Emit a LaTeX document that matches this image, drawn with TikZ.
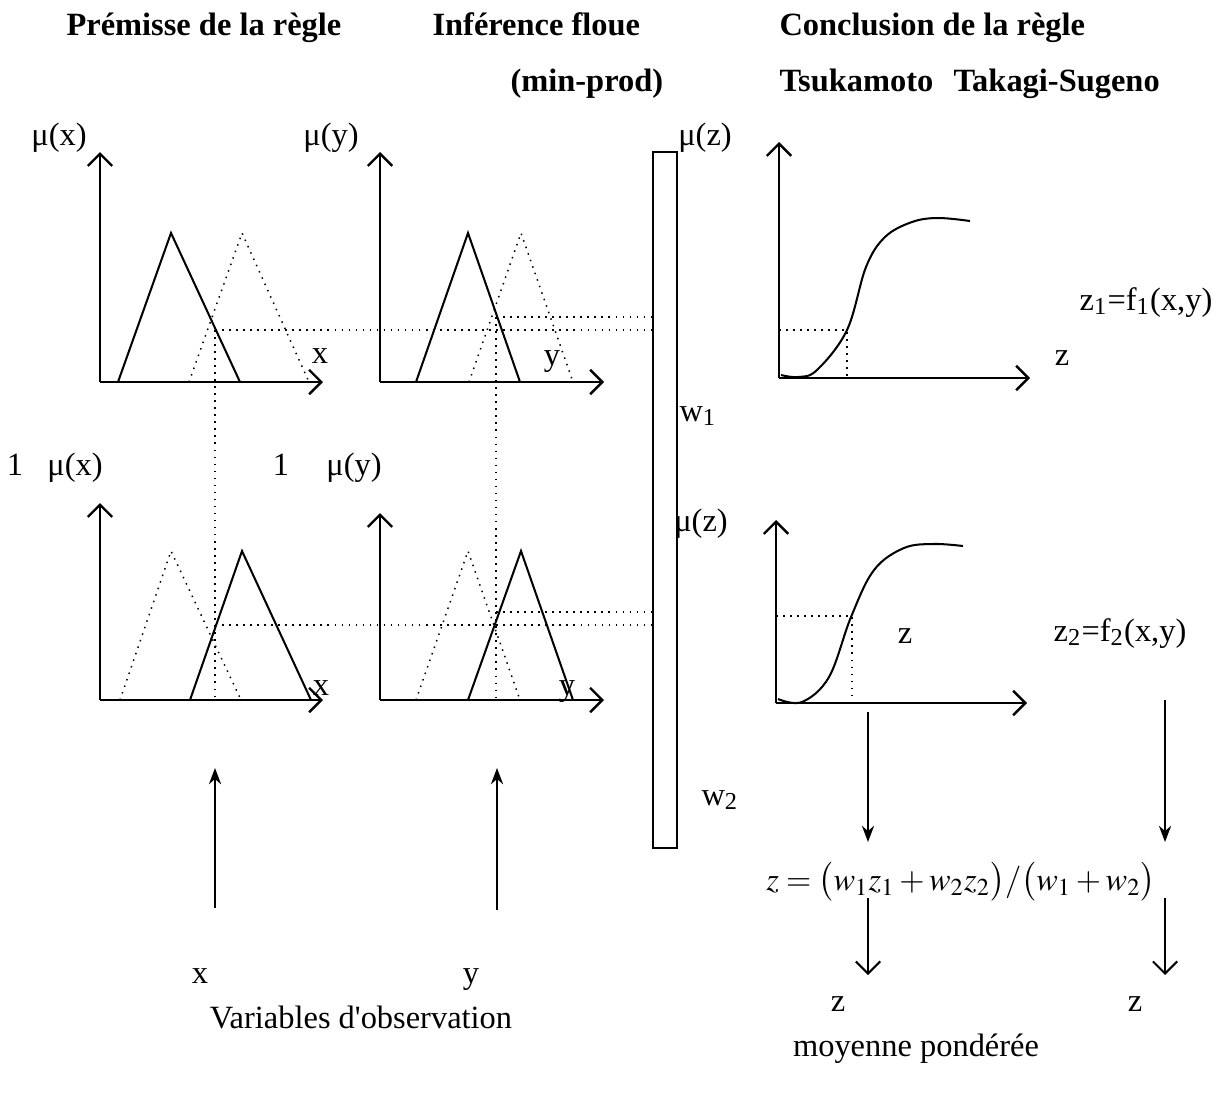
\documentclass[tikz,border=0pt,12pt]{standalone}
\usepackage{mathptmx}
\usepackage[no-math]{fontspec}
\setmainfont{Liberation Serif}
\usetikzlibrary{arrows.meta,positioning,calc}

\begin{document}
\begin{tikzpicture}[
    x=0.013cm, y=-0.013cm,
    axis/.style={-{Straight Barb[length=4.5pt,width=9pt]}, line width=0.9pt},
    mf/.style={line width=0.75pt, line join=miter},
    mfdot/.style={dotted, line width=0.55pt},
    guide/.style={dotted, line width=0.6pt},
    flow/.style={-{Stealth[length=6pt,width=4.5pt]}, line width=0.75pt},
    flowopen/.style={-{Straight Barb[length=4.5pt,width=9pt]}, line width=0.75pt},
    head/.style={font=\bfseries, anchor=base west, inner sep=0pt},
    lbl/.style={inner sep=0pt, anchor=base, yshift=-0.104cm}
]
\useasboundingbox (0,0) rectangle (1222,1098);

    % Titres
    \node[head] (premisse) at (66,35) {Prémisse de la règle};
    \node[head] (inference) at (432,35) {Inférence floue};
    \node[head] (conclusion) at (779,35) {Conclusion de la règle};
    \node[head] (minprod) at (510,91) {(min-prod)};
    \node[head] (tsukamoto) at (779,91) {Tsukamoto};
    \node[head] (sugeno) at (953,91) {Takagi-Sugeno};

    % Regle 1 : premisse
    \draw[axis] (100,382) -- (100,152);
    \draw[axis] (100,382) -- (323,382);
    \draw[mf] (118,382) -- (171,233) -- (240,382);
    \draw[mfdot] (189,382) -- (242,233) -- (309,382);
    \node[lbl] (mux1) at (59,137) {μ(x)};
    \node[lbl] (xa1) at (320,355) {x};

    \draw[axis] (380,382) -- (380,152);
    \draw[axis] (380,382) -- (604,382);
    \draw[mf] (416,382) -- (468,233) -- (520,382);
    \draw[mfdot] (469,382) -- (521,233) -- (573,382);
    \node[lbl] (muy1) at (331,137) {μ(y)};
    \node[lbl] (ya1) at (552,357) {y};

    % Regle 2 : premisse
    \draw[axis] (100,700) -- (100,503);
    \draw[axis] (100,700) -- (323,700);
    \draw[mfdot] (120,700) -- (171,551) -- (241,700);
    \draw[mf] (190,700) -- (242,551) -- (311,700);
    \node[lbl] (un1) at (15,467) {1};
    \node[lbl] (mux2) at (75,467) {μ(x)};
    \node[lbl] (xa2) at (321,687) {x};

    \draw[axis] (380,700) -- (380,513);
    \draw[axis] (380,700) -- (604,700);
    \draw[mfdot] (416,700) -- (468,551) -- (520,700);
    \draw[mf] (468,700) -- (521,551) -- (573,700);
    \node[lbl] (un2) at (281,467) {1};
    \node[lbl] (muy2) at (354,467) {μ(y)};
    \node[lbl] (ya2) at (567,687) {y};

    % Barre des poids
    \draw[line width=0.75pt] (653,152) rectangle (677,848);
    \node[lbl] (muz1) at (705,137) {μ(z)};
    \node[lbl] (muz2) at (701,523) {μ(z)};
    \node[lbl] (w1) at (698,413) {w\textsubscript{1}};
    \node[lbl] (w2) at (720,797) {w\textsubscript{2}};

    % Lignes de lecture
    \draw[guide] (215,330) -- (653,330);
    \draw[guide] (496,317) -- (653,317);
    \draw[guide] (215,625) -- (653,625);
    \draw[guide] (496,612) -- (653,612);
    \draw[guide] (215,330) -- (215,700);
    \draw[guide] (496,317) -- (496,700);

    % Conclusion, regle 1
    \draw[axis] (779,378) -- (779,142);
    \draw[axis] (779,378) -- (1030,378);
    \draw[mf] plot[smooth, tension=0.6] coordinates {(781,375) (798,377) (817,370) (847,330) (866,267) (885,237) (912,222) (938,218) (970,221)};
    \draw[guide] (779,330) -- (847,330) -- (847,378);
    \node[lbl] (za1) at (1062,357) {z};
    \node[lbl] (z1) at (1146,302) {z\textsubscript{1}=f\textsubscript{1}(x,y)};

    % Conclusion, regle 2
    \draw[axis] (776,703) -- (776,520);
    \draw[axis] (776,703) -- (1027,703);
    \draw[mf] plot[smooth, tension=0.6] coordinates {(778,699) (802,702) (829,677) (851,617) (874,570) (904,548) (934,544) (963,546)};
    \draw[guide] (776,616) -- (852,616) -- (852,703);
    \node[lbl] (za2) at (905,635) {z};
    \node[lbl] (z2) at (1120,633) {z\textsubscript{2}=f\textsubscript{2}(x,y)};

    % Variables d'observation
    \coordinate (xin) at (215,908);
    \coordinate (xup) at (215,768);
    \coordinate (yin) at (497,910);
    \coordinate (yup) at (497,768);
    \draw[flow] (xin) -- (xup);
    \draw[flow] (yin) -- (yup);
    \node[lbl] (xobs) at (200,975) {x};
    \node[lbl] (yobs) at (471,975) {y};
    \node[lbl] (observation) at (361,1020) {Variables d\textquotesingle observation};

    % Moyenne ponderee
    \node[lbl] (formule) at (961,882) {$z = \bigl(w_1 z_1 + w_2 z_2\bigr)/\bigl(w_1 + w_2\bigr)$};
    \coordinate (tsA) at (868,712);
    \coordinate (tsB) at (868,842);
    \coordinate (tsC) at (868,898);
    \coordinate (tsD) at (868,975);
    \coordinate (sgA) at (1165,700);
    \coordinate (sgB) at (1165,842);
    \coordinate (sgC) at (1165,898);
    \coordinate (sgD) at (1165,975);
    \draw[flow] (tsA) -- (tsB);
    \draw[flow] (sgA) -- (sgB);
    \draw[flowopen] (tsC) -- (tsD);
    \draw[flowopen] (sgC) -- (sgD);
    \node[lbl] (zts) at (838,1003) {z};
    \node[lbl] (zsg) at (1135,1003) {z};
    \node[lbl] (moyenne) at (916,1048) {moyenne pondérée};

\end{tikzpicture}
\end{document}
